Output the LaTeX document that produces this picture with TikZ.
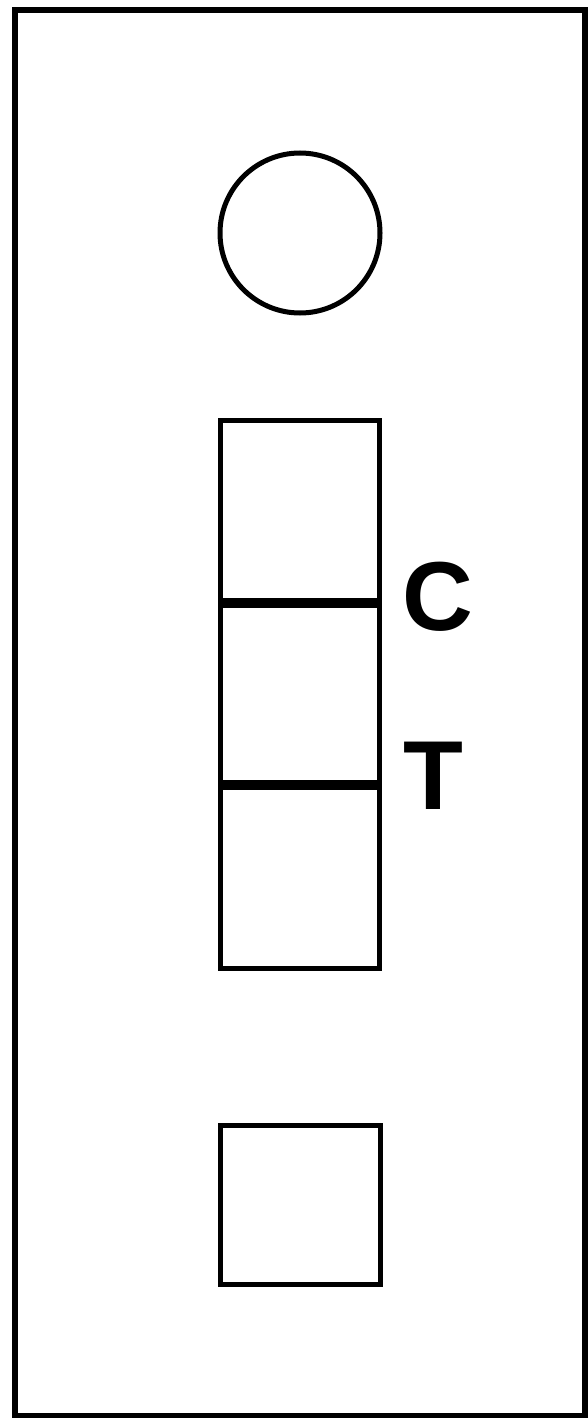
\documentclass[tikz,border=0pt]{standalone}
\usepackage{fontspec}
\setmainfont{Liberation Sans}

\begin{document}
\begin{tikzpicture}[x=0.5pt, y=-0.5pt,
  frame/.style={draw=black, line width=3pt},
  part/.style={draw=black, line width=2.5pt},
  band/.style={draw=black, line width=5pt},
  letter/.style={font=\fontsize{49}{49}\selectfont\bfseries, inner sep=0pt, anchor=base}]
  \useasboundingbox (0,0) rectangle (588,1418);
  % cassette body
  \draw[frame] (15,10) rectangle (585,1416);
  % sample well
  \draw[part] (300,233) circle (40pt);
  % result window
  \draw[part] (220,420) rectangle (379,968);
  \coordinate (cl) at (220,603);
  \coordinate (cr) at (379,603);
  \coordinate (tl) at (220,785);
  \coordinate (tr) at (379,785);
  \draw[band] (cl) -- (cr);
  \draw[band] (tl) -- (tr);
  \node[letter] (ctrl) at (438,630) {C};
  \node[letter] (test) at (433,809) {T};
  % lower window
  \draw[part] (220,1125) rectangle (380,1284);
\end{tikzpicture}
\end{document}
